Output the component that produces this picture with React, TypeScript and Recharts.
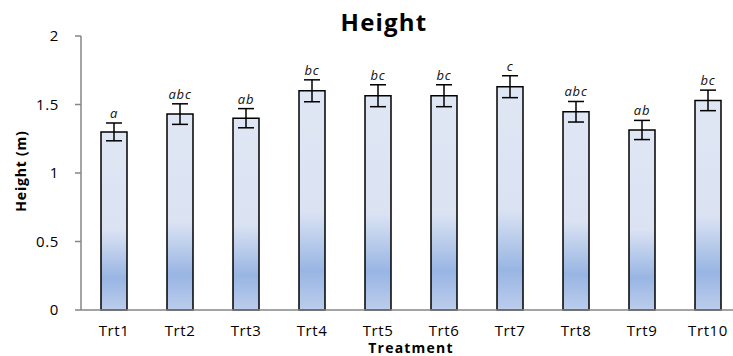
import { BarChart, Bar, XAxis, YAxis, ErrorBar, LabelList } from "recharts";

const treatments = ["Trt1", "Trt2", "Trt3", "Trt4", "Trt5", "Trt6", "Trt7", "Trt8", "Trt9", "Trt10"];
const heights = [1.3, 1.43, 1.4, 1.6, 1.564, 1.564, 1.63, 1.447, 1.314, 1.53];
const errors = [0.065, 0.075, 0.07, 0.08, 0.08, 0.08, 0.08, 0.075, 0.07, 0.075];
const groups = ["a", "abc", "ab", "bc", "bc", "bc", "c", "abc", "ab", "bc"];
const yTicks = [0, 0.5, 1, 1.5, 2];

const data = treatments.map((t, i) => ({
  name: t,
  height: heights[i],
  err: errors[i],
  group: groups[i],
}));

const FONT = "'Open Sans', Lato, sans-serif";

// letter sits just above the top cap of the error bar
function GroupLabel(props: any) {
  const { x, y, width, height, index } = props;
  const d = data[index];
  if (!d) return null;
  const pxPerUnit = height / d.height;
  const top = y - d.err * pxPerUnit;
  return (
    <text
      x={x + width / 2}
      y={top - 5}
      textAnchor="middle"
      fontSize={13}
      fontStyle="italic"
      fontFamily={FONT}
      letterSpacing={0.8}
      fill="#111"
    >
      {d.group}
    </text>
  );
}

export default function App() {
  return (
    <div
      style={{
        position: "absolute",
        left: 0,
        top: 0,
        width: 733,
        height: 356,
        overflow: "hidden",
        background: "#fff",
      }}
    >
      <BarChart
        width={760}
        height={356}
        data={data}
        margin={{ top: 36, right: 19, left: 31, bottom: 16 }}
        style={{ position: "absolute", left: 0, top: 0 }}
      >
        <defs>
          <linearGradient id="barFill" x1="0" y1="0" x2="0" y2="1">
            <stop offset="0%" stopColor="#dfe6f4" />
            <stop offset="55%" stopColor="#dbe3f3" />
            <stop offset="82%" stopColor="#98b5e3" />
            <stop offset="100%" stopColor="#bccdec" />
          </linearGradient>
        </defs>
        <XAxis
          dataKey="name"
          height={30}
          tickLine={false}
          axisLine={{ stroke: "#868686", strokeWidth: 1.5 }}
          tick={{ fontSize: 15, fill: "#000", fontFamily: FONT, letterSpacing: 0.6 }}
          tickMargin={9}
        />
        <YAxis
          width={50}
          domain={[0, 2]}
          ticks={yTicks}
          tickSize={6}
          tickMargin={16}
          tickLine={{ stroke: "#868686", strokeWidth: 1.5 }}
          axisLine={{ stroke: "#868686", strokeWidth: 1.5 }}
          tick={{ fontSize: 15, fill: "#000", fontFamily: FONT, letterSpacing: 0.6 }}
        />
        <Bar
          dataKey="height"
          barSize={26}
          fill="url(#barFill)"
          stroke="#000"
          strokeWidth={1.5}
          isAnimationActive={false}
        >
          <ErrorBar dataKey="err" width={8} stroke="#000" strokeWidth={1.5} direction="y" />
          <LabelList dataKey="group" content={<GroupLabel />} />
        </Bar>
      </BarChart>
      <div
        style={{
          position: "absolute",
          left: 384,
          top: 5,
          transform: "translateX(-50%)",
          fontFamily: FONT,
          fontWeight: 700,
          fontSize: 24,
          letterSpacing: 1.2,
          color: "#000",
          whiteSpace: "nowrap",
        }}
      >
        Height
      </div>
      <div
        style={{
          position: "absolute",
          left: 20,
          top: 171,
          transform: "translate(-50%, -50%) rotate(-90deg)",
          fontFamily: FONT,
          fontWeight: 700,
          fontSize: 14,
          letterSpacing: 0.8,
          whiteSpace: "nowrap",
        }}
      >
        Height (m)
      </div>
      <div
        style={{
          position: "absolute",
          left: 411,
          top: 341,
          transform: "translateX(-50%)",
          fontFamily: FONT,
          fontWeight: 700,
          fontSize: 14,
          letterSpacing: 1.2,
          lineHeight: "14px",
          whiteSpace: "nowrap",
        }}
      >
        Treatment
      </div>
    </div>
  );
}
